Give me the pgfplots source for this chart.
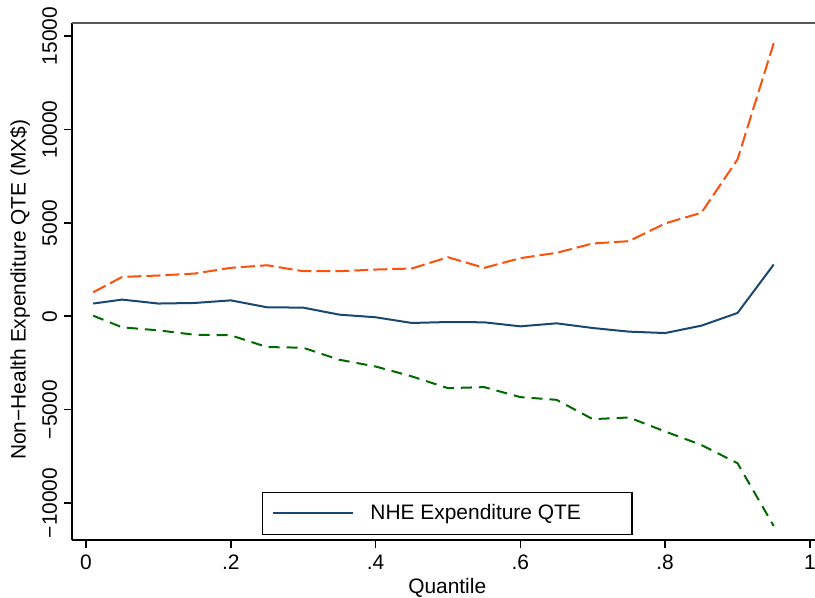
\documentclass[border=0pt]{standalone}
\usepackage{fontspec}
\setmainfont{Liberation Sans}
\usepackage{pgfplots}
\usepackage{pgfplotstable}
\pgfplotsset{compat=1.18}
\definecolor{navyb}{RGB}{26,71,111}
\definecolor{orangeR}{RGB}{255,80,10}
\definecolor{dkgreen}{RGB}{0,105,0}

\pgfplotstableread{
q    est    hi     lo
0.01 680    1285   30
0.05 890    2105   -595
0.10 680    2180   -755
0.15 710    2285   -990
0.20 850    2590   -1020
0.25 480    2730   -1650
0.30 460    2410   -1685
0.35 85     2410   -2330
0.40 -55    2500   -2690
0.45 -360   2555   -3220
0.50 -310   3160   -3850
0.55 -325   2590   -3795
0.60 -540   3110   -4330
0.65 -380   3395   -4475
0.70 -630   3895   -5510
0.75 -825   4020   -5420
0.80 -900   4970   -6170
0.85 -505   5540   -6890
0.90 175    8400   -7870
0.95 2770   14620  -11230
}\qte

\begin{document}
\begin{tikzpicture}
\begin{axis}[
  scale only axis, width=371.5bp, height=258.5bp,
  xmin=-0.0193, xmax=1.007, ymin=-11980, ymax=15700,
  axis x line*=bottom, axis y line*=left,
  axis line style={line width=0.8bp, black, -},
  tick align=outside, major tick length=4bp,
  every tick/.style={line width=0.8bp, black},
  scaled y ticks=false, scaled x ticks=false,
  xtick={0,0.2,0.4,0.6,0.8,1}, xticklabels={0,.2,.4,.6,.8,1},
  ytick={-10000,-5000,0,5000,10000,15000},
  yticklabels={−10000,−5000,0,5000,10000,15000},
  yticklabel style={rotate=90, anchor=south},
  font=\fontsize{10.5}{12.6}\selectfont,
  xlabel={Quantile},
  ylabel={Non−Health Expenditure QTE (MX\$)},
  xlabel style={at={(rel axis cs:0.505,-0.0927)}, anchor=center},
  ylabel style={at={(rel axis cs:-0.070,0.484)}, anchor=center, rotate=0},
  legend style={at={(rel axis cs:0.505,0)}, anchor=south, yshift=2.5bp,
    draw=black, line width=0.6bp, inner xsep=5bp, inner ysep=4bp,
    column sep=8bp, nodes={inner xsep=0pt, inner ysep=2bp}},
  legend image code/.code={\draw[#1] (0bp,0bp) -- (40bp,0bp);},
  clip=false,
]
\addplot[navyb, line width=1bp] table[x=q, y=est] {\qte};
\addlegendentry{NHE Expenditure QTE\rule{20.5bp}{0pt}}
\addplot[orangeR, line width=1bp, dash pattern=on 7bp off 2.5bp, forget plot] table[x=q, y=hi] {\qte};
\addplot[dkgreen, line width=1bp, dash pattern=on 5.5bp off 3.5bp, forget plot] table[x=q, y=lo] {\qte};
\draw[line width=1bp, black!65] (rel axis cs:0,1) -- (rel axis cs:1,1);
\coordinate (bl) at (rel axis cs:0,0);
\coordinate (tr) at (rel axis cs:1,1);
\end{axis}
\pgfresetboundingbox
\path ([xshift=-36bp,yshift=-29bp]bl) rectangle ([yshift=11.5bp]tr);
\end{tikzpicture}
\end{document}
